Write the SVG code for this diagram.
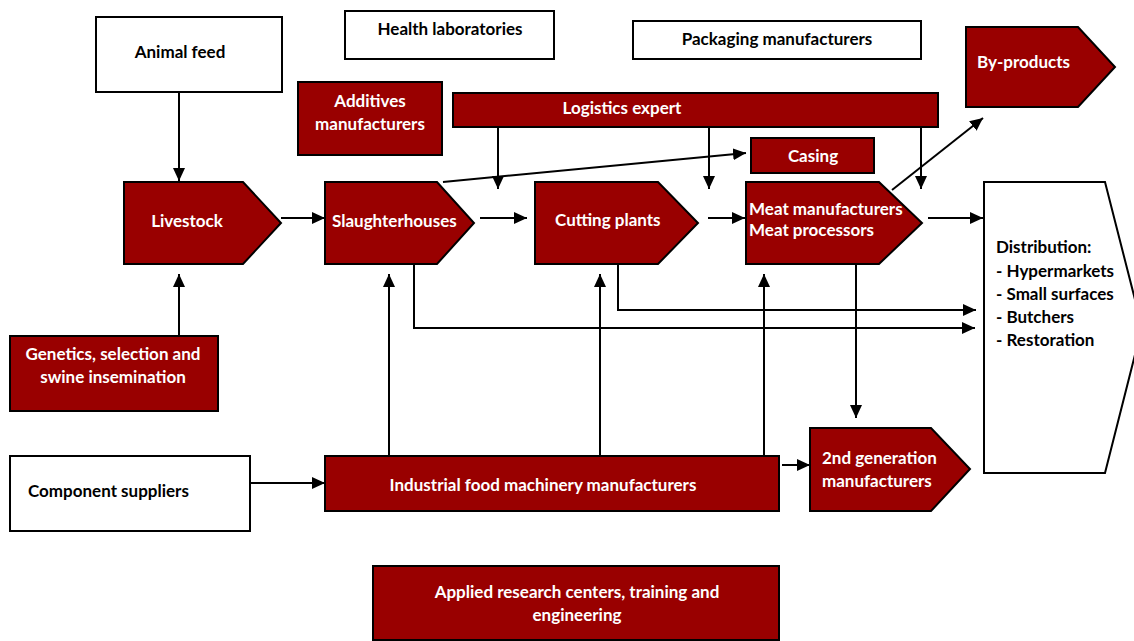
<svg xmlns="http://www.w3.org/2000/svg" width="1134" height="641" viewBox="0 0 1134 641">
<defs>
<style>
.w{fill:#fff;stroke:#000;stroke-width:2}
.r{fill:#990000;stroke:#000;stroke-width:2}
text{font-family:Lato,"Liberation Sans",sans-serif;font-weight:bold;font-size:17px}
.tw{fill:#fff}
.tb{fill:#000}
.c{text-anchor:middle}
.ln{fill:none;stroke:#000;stroke-width:2;marker-end:url(#ah)}
</style>
<marker id="ah" markerUnits="userSpaceOnUse" markerWidth="14" markerHeight="12" refX="13" refY="6" orient="auto">
<path d="M0,0 L13,6 L0,12 Z" fill="#000"/>
</marker>
</defs>
<rect width="1134" height="641" fill="#fff"/>
<g id="connectors">
<path class="ln" d="M179,91 V181"/>
<path class="ln" d="M179,335 V274"/>
<path class="ln" d="M281,218 H325"/>
<path class="ln" d="M480,218 H527"/>
<path class="ln" d="M708,218 H745"/>
<path class="ln" d="M928,218 H983"/>
<path class="ln" d="M443,182 L746,153"/>
<path class="ln" d="M892,190 L983,118"/>
<path class="ln" d="M498,127 V189"/>
<path class="ln" d="M709,127 V189"/>
<path class="ln" d="M921,127 V189"/>
<path class="ln" d="M618,264 V310 H976"/>
<path class="ln" d="M414,264 V328 H975"/>
<path class="ln" d="M389,456 V274"/>
<path class="ln" d="M600,456 V274"/>
<path class="ln" d="M764,456 V274"/>
<path class="ln" d="M856,264 V418"/>
<path class="ln" d="M782,465 H810"/>
<path class="ln" d="M250,483 H325"/>
</g>
<g id="animal-feed">
<rect class="w" x="96" y="17" width="186" height="75"/>
<text class="tb c" x="180" y="58">Animal feed</text>
</g>
<g id="health-laboratories">
<rect class="w" x="345" y="11" width="209" height="48"/>
<text class="tb c" x="450" y="35">Health laboratories</text>
</g>
<g id="packaging-manufacturers">
<rect class="w" x="633" y="21" width="288" height="38"/>
<text class="tb c" x="777" y="45">Packaging manufacturers</text>
</g>
<g id="by-products">
<polygon class="r" points="966,27 1078,27 1115,67 1078,107 966,107"/>
<text class="tw" x="977" y="68">By-products</text>
</g>
<g id="additives-manufacturers">
<rect class="r" x="298" y="82" width="144" height="73"/>
<text class="tw c" x="370" y="107">Additives</text>
<text class="tw c" x="370" y="130">manufacturers</text>
</g>
<g id="logistics-expert">
<rect class="r" x="453" y="93" width="485" height="34"/>
<text class="tw c" x="622" y="114">Logistics expert</text>
</g>
<g id="casing">
<rect class="r" x="751" y="138" width="123" height="35"/>
<text class="tw c" x="813" y="162">Casing</text>
</g>
<g id="livestock">
<polygon class="r" points="124,182 243,182 281,223 243,264 124,264"/>
<text class="tw c" x="187" y="227">Livestock</text>
</g>
<g id="slaughterhouses">
<polygon class="r" points="325,182 437,182 474,223 437,264 325,264"/>
<text class="tw" x="332" y="227">Slaughterhouses</text>
</g>
<g id="cutting-plants">
<polygon class="r" points="535,182 658,182 698,223 658,264 535,264"/>
<text class="tw" x="555" y="226">Cutting plants</text>
</g>
<g id="meat-manufacturers">
<polygon class="r" points="746,182 879,182 922,223 879,264 746,264"/>
<text class="tw" x="749" y="215">Meat manufacturers</text>
<text class="tw" x="749" y="236">Meat processors</text>
</g>
<g id="distribution">
<polygon class="w" points="984,182 1105,182 1142,327 1105,473 984,473"/>
<text class="tb" x="996" y="253">Distribution:</text>
<text class="tb" x="996" y="277">- Hypermarkets</text>
<text class="tb" x="996" y="300">- Small surfaces</text>
<text class="tb" x="996" y="323">- Butchers</text>
<text class="tb" x="996" y="346">- Restoration</text>
</g>
<g id="genetics">
<rect class="r" x="10" y="336" width="208" height="75"/>
<text class="tw c" x="113" y="360">Genetics, selection and</text>
<text class="tw c" x="113" y="383">swine insemination</text>
</g>
<g id="component-suppliers">
<rect class="w" x="10" y="456" width="240" height="75"/>
<text class="tb" x="28" y="497">Component suppliers</text>
</g>
<g id="industrial-food-machinery">
<rect class="r" x="325" y="456" width="454" height="55"/>
<text class="tw c" x="543" y="491">Industrial food machinery manufacturers</text>
</g>
<g id="second-generation">
<polygon class="r" points="810,428 931,428 970,469 931,511 810,511"/>
<text class="tw" x="822" y="464">2nd generation</text>
<text class="tw" x="822" y="487">manufacturers</text>
</g>
<g id="applied-research">
<rect class="r" x="373" y="566" width="406" height="74"/>
<text class="tw c" x="577" y="598">Applied research centers, training and</text>
<text class="tw c" x="577" y="621">engineering</text>
</g>
</svg>
